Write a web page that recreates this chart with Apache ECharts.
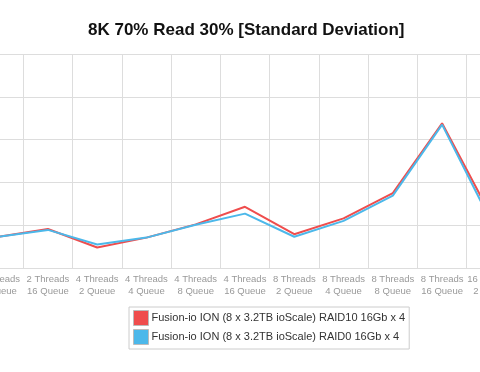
<!DOCTYPE html>
<html><head><meta charset="utf-8">
<script src="https://cdn.jsdelivr.net/npm/echarts@6/dist/echarts.min.js"></script>
<style>
html,body{margin:0;padding:0;width:480px;height:372px;overflow:hidden;background:#fff;position:relative;}
#c{position:absolute;left:-26px;top:0;width:542px;height:372px;}
</style></head>
<body><div id="c"></div>
<script>
const categories = ['2 Threads\n8 Queue','2 Threads\n16 Queue','4 Threads\n2 Queue','4 Threads\n4 Queue','4 Threads\n8 Queue','4 Threads\n16 Queue','8 Threads\n2 Queue','8 Threads\n4 Queue','8 Threads\n8 Queue','8 Threads\n16 Queue','16 Threads\n2 Queue'];
const raid10 = [0.73, 0.91, 0.48, 0.71, 1.02, 1.43, 0.79, 1.16, 1.75, 3.38, 1.21];
const raid0  = [0.73, 0.89, 0.55, 0.71, 1.01, 1.27, 0.73, 1.10, 1.69, 3.35, 1.07];
const seriesNames = ['Fusion-io ION (8 x 3.2TB ioScale) RAID10 16Gb x 4','Fusion-io ION (8 x 3.2TB ioScale) RAID0 16Gb x 4'];
const colors = ['#ef4d4d','#4cb8ea'];

const chart = echarts.init(document.getElementById('c'));
chart.setOption({
  animation:false,
  textStyle:{fontFamily:'Liberation Sans, Arial, sans-serif'},
  title:{text:'8K 70% Read 30% [Standard Deviation]', left:114, top:22, padding:0,
    textStyle:{fontSize:17, fontWeight:'bold', color:'#111', fontFamily:'Liberation Sans, Arial, sans-serif'}},
  legend:{orient:'vertical', left:155, top:307, padding:[3,4,4,4], itemGap:3,
    itemWidth:15, itemHeight:15, icon:'rect',
    borderColor:'#cccccc', borderWidth:1, borderRadius:0,
    itemStyle:{borderColor:'#bbbbbb', borderWidth:1},
    textStyle:{fontSize:11, color:'#333', padding:[0,0,0,-2]},
    data:seriesNames},
  grid:{left:0, right:0, top:54, bottom:104, outerBoundsMode:'none', containLabel:false},
  xAxis:{type:'category', data:categories, boundaryGap:true,
    axisLine:{lineStyle:{color:'#dddddd'}}, axisTick:{show:false},
    splitLine:{show:true, lineStyle:{color:'#dddddd', width:1}},
    axisLabel:{fontSize:9.5, color:'#999', lineHeight:12, margin:5, interval:0, hideOverlap:false}},
  yAxis:{type:'value', min:0, max:5, interval:1,
    axisLabel:{show:false}, axisLine:{show:false}, axisTick:{show:false},
    splitLine:{lineStyle:{color:'#dddddd', width:1}}},
  series:[
    {name:seriesNames[0], type:'line', data:raid10, color:colors[0], showSymbol:false, lineStyle:{width:2}},
    {name:seriesNames[1], type:'line', data:raid0, color:colors[1], showSymbol:false, lineStyle:{width:2}}
  ]
});
</script></body></html>
